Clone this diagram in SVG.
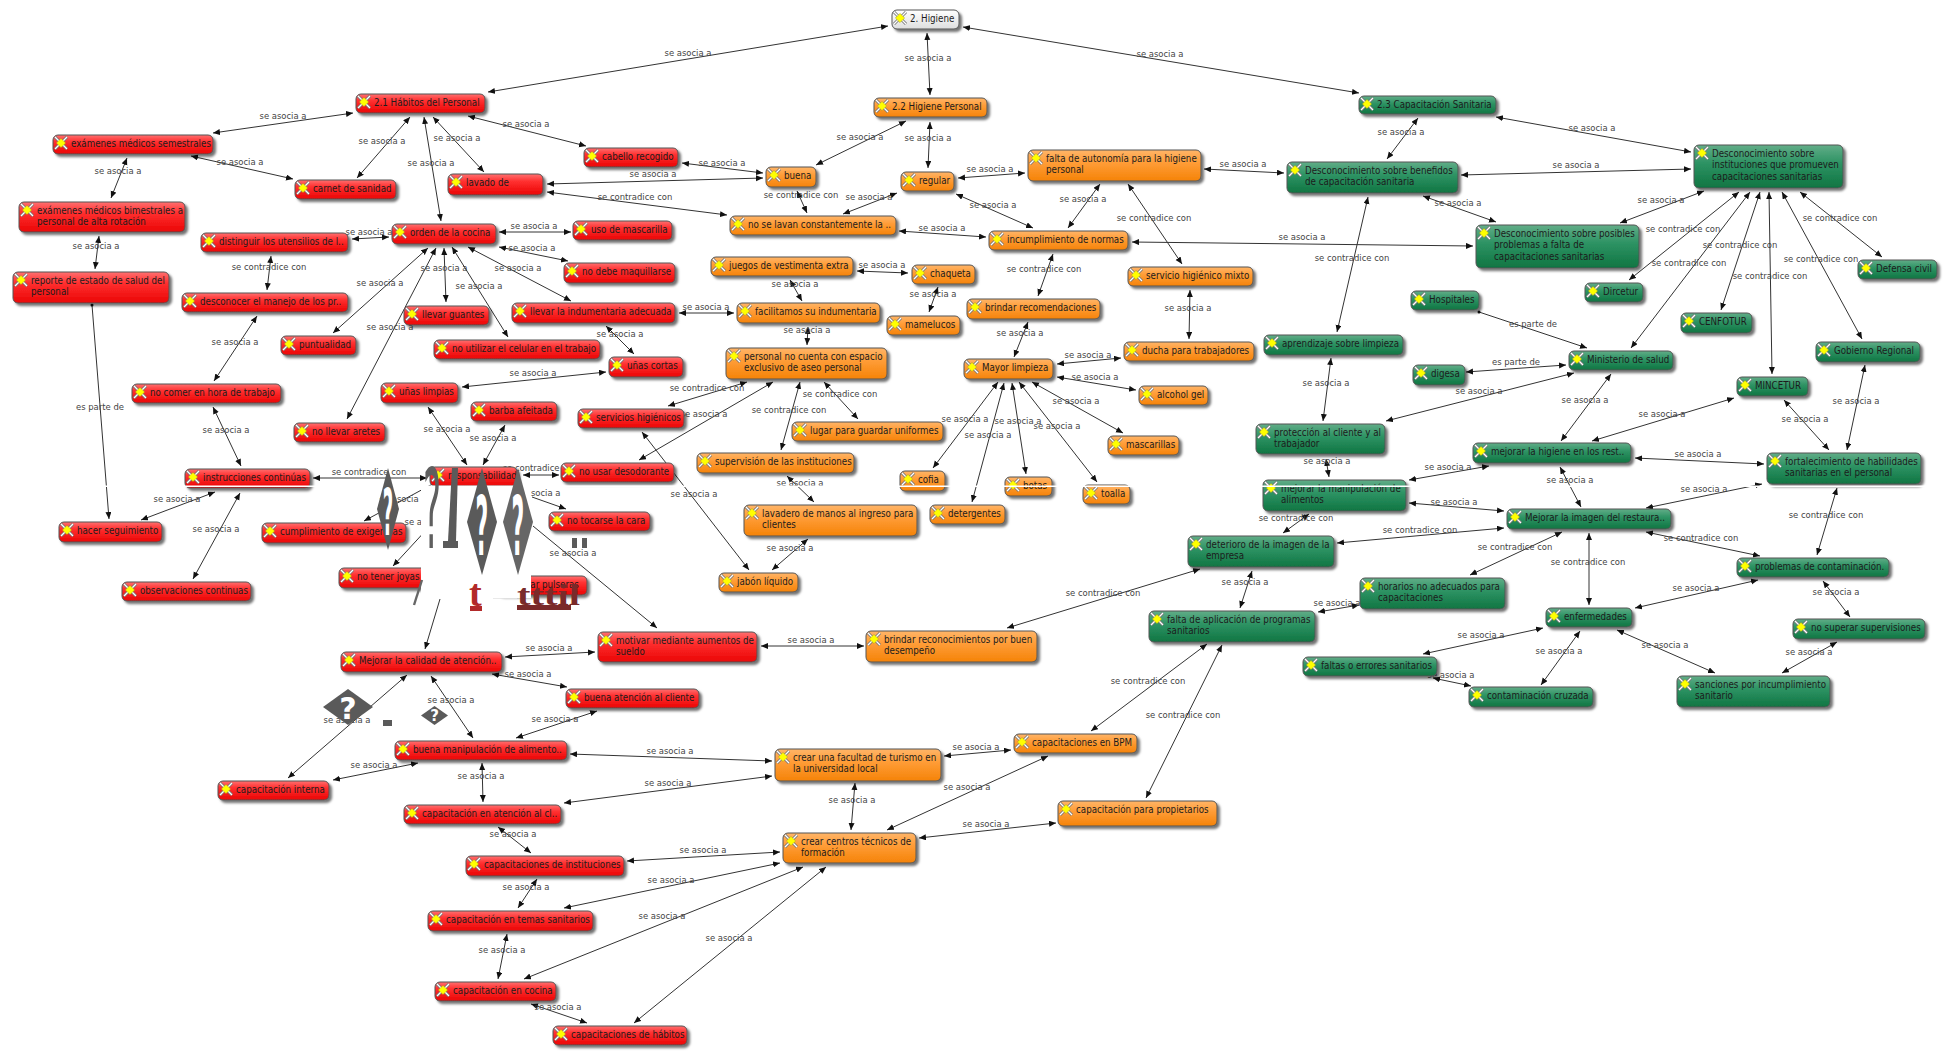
<svg xmlns="http://www.w3.org/2000/svg" width="1954" height="1058" viewBox="0 0 1954 1058">
<style>
text{font-family:"DejaVu Sans Condensed","DejaVu Sans","Liberation Sans",sans-serif;font-stretch:condensed}
.c path{fill:none;stroke:#333;stroke-width:1;marker-start:url(#a);marker-end:url(#a)}
.c path.e{marker-start:none}
.c path.d{marker-start:url(#dot)}
.c text{font-size:9.4px;fill:#444;text-anchor:middle;dominant-baseline:central}
.n rect{stroke:#555;stroke-width:1;filter:url(#s)}
.n text{font-size:9.7px;fill:#1c1c1c}
.r rect{fill:url(#gr)}.o rect{fill:url(#go)}.g rect{fill:url(#gg)}.w rect{fill:url(#gw)}
.x{fill:#5a5a5a}
#glitches text{font-family:"DejaVu Sans",sans-serif;font-stretch:normal}
#glitches text.t{font-family:"Liberation Serif",serif;font-weight:bold}
.q{fill:#fff;font-weight:bold;font-size:20px;text-anchor:middle}
</style>
<defs>
<marker id="a" markerUnits="userSpaceOnUse" markerWidth="8" markerHeight="7" refX="7" refY="3" orient="auto-start-reverse"><path d="M0,0L7,3L0,6z" fill="#111"/></marker>
<marker id="dot" markerUnits="userSpaceOnUse" markerWidth="4" markerHeight="4" refX="2" refY="2"><circle cx="2" cy="2" r="1.5" fill="#111"/></marker>
<linearGradient id="gr" x1="0" y1="0" x2="0" y2="1"><stop offset="0" stop-color="#ff7070"/><stop offset=".35" stop-color="#ff3030"/><stop offset="1" stop-color="#ea0404"/></linearGradient>
<linearGradient id="go" x1="0" y1="0" x2="0" y2="1"><stop offset="0" stop-color="#ffb568"/><stop offset=".4" stop-color="#ff9d38"/><stop offset="1" stop-color="#f58308"/></linearGradient>
<linearGradient id="gg" x1="0" y1="0" x2="0" y2="1"><stop offset="0" stop-color="#62ad88"/><stop offset=".4" stop-color="#2f9465"/><stop offset="1" stop-color="#0f7542"/></linearGradient>
<linearGradient id="gw" x1="0" y1="0" x2="0" y2="1"><stop offset="0" stop-color="#fff"/><stop offset="1" stop-color="#dedede"/></linearGradient>
<filter id="s" x="-10%" y="-20%" width="125%" height="160%"><feDropShadow dx="2.5" dy="2.5" stdDeviation="1.2" flood-color="#000" flood-opacity=".55"/></filter>
<g id="i"><path d="M-6,-6L6,6M6,-6L-6,6" stroke="#777" stroke-width="3"/><path d="M-6,-6L6,6M6,-6L-6,6" stroke="#fff" stroke-width="1.3"/><path d="M0,-4.6L4.6,0L0,4.6L-4.6,0z" fill="#ff0" stroke="#a8a020" stroke-width=".5"/></g>
</defs>
<rect width="1954" height="1058" fill="#fff"/>
<g id="connectors" class="c">
<g><path d="M888 26L488 92"/><text x="688" y="52">se asocia a</text></g>
<g><path d="M927 33L930 95"/><text x="928" y="57">se asocia a</text></g>
<g><path d="M963 27L1359 93"/><text x="1160" y="53">se asocia a</text></g>
<g><path d="M906 121L816 165"/><text x="860" y="136">se asocia a</text></g>
<g><path d="M930 122L928 168"/><text x="928" y="137">se asocia a</text></g>
<g><path d="M468 116L586 146"/><text x="526" y="123">se asocia a</text></g>
<g><path d="M682 163L763 173"/><text x="722" y="162">se asocia a</text></g>
<g><path d="M547 184L763 178"/><text x="653" y="173">se asocia a</text></g>
<g><path d="M547 192L727 215"/><text x="635" y="196">se contradice con</text></g>
<g><path d="M797 191L807 213"/><text x="801" y="194">se contradice con</text></g>
<g><path d="M843 214L897 193"/><text x="869" y="196">se asocia a</text></g>
<g><path d="M899 231L986 237"/><text x="942" y="227">se asocia a</text></g>
<g><path d="M958 178L1025 173"/><text x="990" y="168">se asocia a</text></g>
<g><path d="M956 194L1033 228"/><text x="993" y="204">se asocia a</text></g>
<g><path d="M1100 184L1068 228"/><text x="1083" y="198">se asocia a</text></g>
<g><path d="M1128 184L1182 264"/><text x="1154" y="217">se contradice con</text></g>
<g><path d="M1204 169L1284 173"/><text x="1243" y="163">se asocia a</text></g>
<g><path d="M1418 118L1387 159"/><text x="1401" y="131">se asocia a</text></g>
<g><path d="M1496 117L1691 152"/><text x="1592" y="127">se asocia a</text></g>
<g><path d="M1461 175L1691 169"/><text x="1576" y="164">se asocia a</text></g>
<g><path d="M1423 196L1496 222"/><text x="1458" y="202">se asocia a</text></g>
<g><path d="M1132 242L1473 246"/><text x="1302" y="236">se asocia a</text></g>
<g><path d="M1368 197L1337 332"/><text x="1352" y="257">se contradice con</text></g>
<g><path d="M1620 223L1704 191"/><text x="1661" y="199">se asocia a</text></g>
<g><path d="M1739 192L1629 280"/><text x="1683" y="228">se contradice con</text></g>
<g><path d="M1750 192L1631 348"/><text x="1689" y="262">se contradice con</text></g>
<g><path d="M1760 192L1721 310"/><text x="1740" y="244">se contradice con</text></g>
<g><path d="M1769 192L1772 374"/><text x="1770" y="275">se contradice con</text></g>
<g><path d="M1782 192L1862 339"/><text x="1821" y="258">se contradice con</text></g>
<g><path d="M1800 192L1882 257"/><text x="1840" y="217">se contradice con</text></g>
<g><path class="d" d="M1479 312L1587 348"/><text x="1533" y="323">es parte de</text></g>
<g><path d="M1466 372L1566 365"/><text x="1516" y="361">es parte de</text></g>
<g><path d="M1386 421L1574 373"/><text x="1479" y="390">se asocia a</text></g>
<g><path d="M1611 374L1561 441"/><text x="1585" y="399">se asocia a</text></g>
<g><path d="M1592 441L1734 398"/><text x="1662" y="413">se asocia a</text></g>
<g><path d="M1784 400L1829 450"/><text x="1805" y="418">se asocia a</text></g>
<g><path d="M1865 365L1847 450"/><text x="1856" y="400">se asocia a</text></g>
<g><path d="M1635 458L1764 464"/><text x="1698" y="453">se asocia a</text></g>
<g><path d="M1646 508L1762 484"/><text x="1704" y="488">se asocia a</text></g>
<g><path d="M1560 467L1581 507"/><text x="1570" y="479">se asocia a</text></g>
<g><path d="M1409 480L1489 466"/><text x="1448" y="466">se asocia a</text></g>
<g><path d="M1409 503L1504 511"/><text x="1454" y="501">se asocia a</text></g>
<g><path d="M1337 543L1504 528"/><text x="1420" y="529">se contradice con</text></g>
<g><path d="M1309 514L1283 533"/><text x="1296" y="517">se contradice con</text></g>
<g><path d="M1326 459L1329 477"/><text x="1327" y="460">se asocia a</text></g>
<g><path d="M1331 358L1323 421"/><text x="1326" y="382">se asocia a</text></g>
<g><path d="M1252 571L1240 608"/><text x="1245" y="581">se asocia a</text></g>
<g><path d="M1200 569L1007 628"/><text x="1103" y="592">se contradice con</text></g>
<g><path d="M1318 612L1359 605"/><text x="1337" y="602">se asocia a</text></g>
<g><path d="M1470 575L1562 532"/><text x="1515" y="546">se contradice con</text></g>
<g><path d="M1589 533L1589 605"/><text x="1588" y="561">se contradice con</text></g>
<g><path d="M1646 532L1760 556"/><text x="1701" y="537">se contradice con</text></g>
<g><path d="M1837 488L1817 555"/><text x="1826" y="514">se contradice con</text></g>
<g><path d="M1635 608L1758 580"/><text x="1696" y="587">se asocia a</text></g>
<g><path d="M1823 581L1850 617"/><text x="1836" y="591">se asocia a</text></g>
<g><path d="M1837 642L1782 673"/><text x="1809" y="651">se asocia a</text></g>
<g><path d="M1617 630L1715 673"/><text x="1665" y="644">se asocia a</text></g>
<g><path d="M1580 631L1541 685"/><text x="1559" y="650">se asocia a</text></g>
<g><path d="M1423 654L1543 628"/><text x="1481" y="634">se asocia a</text></g>
<g><path d="M1433 678L1471 686"/><text x="1451" y="674">se asocia a</text></g>
<g><path d="M1207 644L1091 731"/><text x="1148" y="680">se contradice con</text></g>
<g><path d="M1222 645L1146 798"/><text x="1183" y="714">se contradice con</text></g>
<g><path d="M944 756L1011 750"/><text x="976" y="746">se asocia a</text></g>
<g><path d="M855 783L851 830"/><text x="852" y="799">se asocia a</text></g>
<g><path d="M887 830L1048 756"/><text x="967" y="786">se asocia a</text></g>
<g><path d="M919 838L1056 823"/><text x="986" y="823">se asocia a</text></g>
<g><path d="M761 646L864 646"/><text x="811" y="639">se asocia a</text></g>
<g><path d="M505 657L595 652"/><text x="549" y="647">se asocia a</text></g>
<g><path d="M492 674L567 687"/><text x="528" y="673">se asocia a</text></g>
<g><path d="M597 711L516 738"/><text x="555" y="718">se asocia a</text></g>
<g><path d="M431 676L473 738"/><text x="451" y="699">se asocia a</text></g>
<g><path d="M407 675L288 778"/><text x="347" y="719">se asocia a</text></g>
<g><path d="M418 763L333 780"/><text x="374" y="764">se asocia a</text></g>
<g><path d="M482 763L483 802"/><text x="481" y="775">se asocia a</text></g>
<g><path d="M570 754L772 761"/><text x="670" y="750">se asocia a</text></g>
<g><path d="M564 803L772 776"/><text x="668" y="782">se asocia a</text></g>
<g><path d="M498 827L531 853"/><text x="513" y="833">se asocia a</text></g>
<g><path d="M627 861L780 852"/><text x="703" y="849">se asocia a</text></g>
<g><path d="M537 879L518 908"/><text x="526" y="886">se asocia a</text></g>
<g><path d="M564 908L780 863"/><text x="671" y="879">se asocia a</text></g>
<g><path d="M507 934L498 979"/><text x="502" y="949">se asocia a</text></g>
<g><path d="M524 979L803 867"/><text x="662" y="915">se asocia a</text></g>
<g><path d="M634 1023L826 867"/><text x="729" y="937">se asocia a</text></g>
<g><path d="M531 1004L587 1023"/><text x="558" y="1006">se asocia a</text></g>
<g><path d="M353 113L213 133"/><text x="283" y="115">se asocia a</text></g>
<g><path d="M191 156L293 179"/><text x="240" y="161">se asocia a</text></g>
<g><path d="M127 158L111 198"/><text x="118" y="170">se asocia a</text></g>
<g><path d="M99 236L95 269"/><text x="96" y="245">se asocia a</text></g>
<g><path d="M410 117L357 178"/><text x="382" y="140">se asocia a</text></g>
<g><path d="M433 117L484 172"/><text x="457" y="137">se asocia a</text></g>
<g><path d="M424 117L441 221"/><text x="431" y="162">se asocia a</text></g>
<g><path d="M389 237L352 239"/><text x="369" y="231">se asocia a</text></g>
<g><path d="M271 256L267 290"/><text x="269" y="266">se contradice con</text></g>
<g><path d="M257 316L214 381"/><text x="235" y="341">se asocia a</text></g>
<g><path d="M213 407L241 466"/><text x="226" y="429">se asocia a</text></g>
<g><path class="d" d="M92 305L109 519"/><text x="100" y="406">es parte de</text></g>
<g><path d="M215 492L141 520"/><text x="177" y="498">se asocia a</text></g>
<g><path d="M240 493L193 579"/><text x="216" y="528">se asocia a</text></g>
<g><path d="M313 478L427 478"/><text x="369" y="471">se contradice con</text></g>
<g><path d="M428 248L333 333"/><text x="380" y="282">se asocia a</text></g>
<g><path d="M436 248L347 419"/><text x="390" y="326">se asocia a</text></g>
<g><path d="M444 248L446 302"/><text x="444" y="267">se asocia a</text></g>
<g><path d="M452 247L508 337"/><text x="479" y="285">se asocia a</text></g>
<g><path d="M468 247L571 301"/><text x="518" y="267">se asocia a</text></g>
<g><path d="M499 232L571 232"/><text x="534" y="225">se asocia a</text></g>
<g><path d="M499 247L568 261"/><text x="532" y="247">se asocia a</text></g>
<g><path d="M679 313L734 313"/><text x="706" y="306">se asocia a</text></g>
<g><path d="M606 326L634 354"/><text x="620" y="333">se asocia a</text></g>
<g><path d="M857 271L908 273"/><text x="882" y="264">se asocia a</text></g>
<g><path d="M790 280L802 301"/><text x="795" y="283">se asocia a</text></g>
<g><path d="M938 287L929 312"/><text x="933" y="293">se asocia a</text></g>
<g><path d="M808 327L807 345"/><text x="807" y="329">se asocia a</text></g>
<g><path d="M606 372L462 387"/><text x="533" y="372">se asocia a</text></g>
<g><path d="M428 407L467 465"/><text x="447" y="428">se asocia a</text></g>
<g><path d="M505 425L483 465"/><text x="493" y="437">se asocia a</text></g>
<g><path d="M523 475L559 475"/><text x="540" y="467">se contradice con</text></g>
<g><path class="e" d="M532 497L566 509"/><text x="537" y="492">se asocia a</text></g>
<g><path class="e" d="M440 480L364 521"/><text x="403" y="498">se asocia a</text></g>
<g><path class="e" d="M440 515L393 566"/><text x="428" y="521">se asocia a</text></g>
<g><path class="e" d="M533 526L657 628"/><text x="573" y="552">se asocia a</text></g>
<g><path class="e" d="M440 599L425 649"/></g>
<g><path d="M773 382L639 460"/><text x="704" y="413">se asocia a</text></g>
<g><path d="M747 382L668 406"/><text x="707" y="387">se contradice con</text></g>
<g><path d="M800 382L781 450"/><text x="789" y="409">se contradice con</text></g>
<g><path d="M824 382L858 419"/><text x="840" y="393">se contradice con</text></g>
<g><path d="M787 476L814 502"/><text x="800" y="482">se asocia a</text></g>
<g><path d="M808 539L772 570"/><text x="790" y="547">se asocia a</text></g>
<g><path d="M749 570L642 432"/><text x="694" y="493">se asocia a</text></g>
<g><path d="M1053 254L1038 296"/><text x="1044" y="268">se contradice con</text></g>
<g><path d="M1028 322L1014 357"/><text x="1020" y="332">se asocia a</text></g>
<g><path d="M1057 364L1121 358"/><text x="1088" y="354">se asocia a</text></g>
<g><path d="M1057 377L1136 390"/><text x="1095" y="376">se asocia a</text></g>
<g><path d="M1032 382L1123 433"/><text x="1076" y="400">se asocia a</text></g>
<g><path d="M1019 382L1097 482"/><text x="1057" y="425">se asocia a</text></g>
<g><path d="M1012 383L1026 474"/><text x="1018" y="420">se asocia a</text></g>
<g><path d="M1004 383L972 502"/><text x="988" y="434">se asocia a</text></g>
<g><path d="M998 382L933 468"/><text x="965" y="418">se asocia a</text></g>
<g><path d="M1190 290L1189 339"/><text x="1188" y="307">se asocia a</text></g>
</g>
<g id="nodes">
<g id="n1" class="n w"><rect x="892" y="10" width="67" height="19" rx="5"/><use href="#i" x="900" y="18"/><text x="910" y="21.5">2. Higiene</text></g>
<g id="n2" class="n r"><rect x="356" y="94" width="129" height="19" rx="5"/><use href="#i" x="364" y="102"/><text x="374" y="105.5">2.1 Hábitos del Personal</text></g>
<g id="n3" class="n o"><rect x="874" y="98" width="113" height="19" rx="5"/><use href="#i" x="882" y="106"/><text x="892" y="109.5">2.2 Higiene Personal</text></g>
<g id="n4" class="n g"><rect x="1359" y="96" width="137" height="18" rx="5"/><use href="#i" x="1367" y="104"/><text x="1377" y="107.5">2.3 Capacitación Sanitaria</text></g>
<g id="n5" class="n r"><rect x="53" y="135" width="160" height="19" rx="5"/><use href="#i" x="61" y="143"/><text x="71" y="146.5">exámenes médicos semestrales</text></g>
<g id="n6" class="n r"><rect x="295" y="180" width="101" height="19" rx="5"/><use href="#i" x="303" y="188"/><text x="313" y="191.5">carnet de sanidad</text></g>
<g id="n7" class="n r"><rect x="19" y="202" width="166" height="30" rx="5"/><use href="#i" x="27" y="210"/><text x="37" y="213.5">exámenes médicos bimestrales a<tspan x="37" dy="11.4">personal de alta rotación</tspan></text></g>
<g id="n8" class="n r"><rect x="13" y="272" width="156" height="31" rx="5"/><use href="#i" x="21" y="280"/><text x="31" y="283.5">reporte de estado de salud del<tspan x="31" dy="11.4">personal</tspan></text></g>
<g id="n9" class="n r"><rect x="201" y="233" width="147" height="19" rx="5"/><use href="#i" x="209" y="241"/><text x="219" y="244.5">distinguir los utensilios de l..</text></g>
<g id="n10" class="n r"><rect x="392" y="224" width="104" height="20" rx="5"/><use href="#i" x="400" y="232"/><text x="410" y="235.5">orden de la cocina</text></g>
<g id="n11" class="n r"><rect x="182" y="293" width="166" height="19" rx="5"/><use href="#i" x="190" y="301"/><text x="200" y="304.5">desconocer el manejo de los pr..</text></g>
<g id="n12" class="n r"><rect x="281" y="336" width="75" height="19" rx="5"/><use href="#i" x="289" y="344"/><text x="299" y="347.5">puntualidad</text></g>
<g id="n13" class="n r"><rect x="404" y="306" width="85" height="19" rx="5"/><use href="#i" x="412" y="314"/><text x="422" y="317.5">llevar guantes</text></g>
<g id="n14" class="n r"><rect x="132" y="384" width="149" height="19" rx="5"/><use href="#i" x="140" y="392"/><text x="150" y="395.5">no comer en hora de trabajo</text></g>
<g id="n15" class="n r"><rect x="381" y="383" width="77" height="20" rx="5"/><use href="#i" x="389" y="391"/><text x="399" y="394.5">uñas limpias</text></g>
<g id="n16" class="n r"><rect x="434" y="340" width="166" height="19" rx="5"/><use href="#i" x="442" y="348"/><text x="452" y="351.5">no utilizar el celular en el trabajo</text></g>
<g id="n17" class="n r"><rect x="448" y="174" width="95" height="21" rx="5"/><use href="#i" x="456" y="182"/><text x="466" y="185.5">lavado de</text></g>
<g id="n18" class="n r"><rect x="471" y="402" width="86" height="19" rx="5"/><use href="#i" x="479" y="410"/><text x="489" y="413.5">barba afeitada</text></g>
<g id="n19" class="n r"><rect x="584" y="148" width="94" height="19" rx="5"/><use href="#i" x="592" y="156"/><text x="602" y="159.5">cabello recogido</text></g>
<g id="n20" class="n o"><rect x="766" y="167" width="50" height="20" rx="5"/><use href="#i" x="774" y="175"/><text x="784" y="178.5">buena</text></g>
<g id="n21" class="n o"><rect x="901" y="172" width="53" height="19" rx="5"/><use href="#i" x="909" y="180"/><text x="919" y="183.5">regular</text></g>
<g id="n22" class="n o"><rect x="730" y="216" width="166" height="19" rx="5"/><use href="#i" x="738" y="224"/><text x="748" y="227.5">no se lavan constantemente la ..</text></g>
<g id="n23" class="n r"><rect x="573" y="221" width="99" height="19" rx="5"/><use href="#i" x="581" y="229"/><text x="591" y="232.5">uso de mascarilla</text></g>
<g id="n24" class="n r"><rect x="564" y="263" width="111" height="20" rx="5"/><use href="#i" x="572" y="271"/><text x="582" y="274.5">no debe maquillarse</text></g>
<g id="n25" class="n o"><rect x="711" y="257" width="142" height="19" rx="5"/><use href="#i" x="719" y="265"/><text x="729" y="268.5">juegos de vestimenta extra</text></g>
<g id="n26" class="n o"><rect x="912" y="265" width="63" height="19" rx="5"/><use href="#i" x="920" y="273"/><text x="930" y="276.5">chaqueta</text></g>
<g id="n27" class="n r"><rect x="512" y="303" width="163" height="20" rx="5"/><use href="#i" x="520" y="311"/><text x="530" y="314.5">llevar la indumentaria adecuada</text></g>
<g id="n28" class="n o"><rect x="737" y="303" width="143" height="20" rx="5"/><use href="#i" x="745" y="311"/><text x="755" y="314.5">facilitamos su indumentaria</text></g>
<g id="n29" class="n o"><rect x="887" y="316" width="73" height="19" rx="5"/><use href="#i" x="895" y="324"/><text x="905" y="327.5">mamelucos</text></g>
<g id="n30" class="n o"><rect x="967" y="299" width="133" height="20" rx="5"/><use href="#i" x="975" y="307"/><text x="985" y="310.5">brindar recomendaciones</text></g>
<g id="n31" class="n o"><rect x="1028" y="150" width="173" height="31" rx="5"/><use href="#i" x="1036" y="158"/><text x="1046" y="161.5">falta de autonomía para la higiene<tspan x="1046" dy="11.4">personal</tspan></text></g>
<g id="n32" class="n g"><rect x="1287" y="162" width="171" height="31" rx="5"/><use href="#i" x="1295" y="170"/><text x="1305" y="173.5">Desconocimiento sobre benefidos<tspan x="1305" dy="11.4">de capacitación sanitaria</tspan></text></g>
<g id="n33" class="n o"><rect x="989" y="231" width="139" height="19" rx="5"/><use href="#i" x="997" y="239"/><text x="1007" y="242.5">incumplimiento de normas</text></g>
<g id="n34" class="n o"><rect x="1128" y="267" width="125" height="19" rx="5"/><use href="#i" x="1136" y="275"/><text x="1146" y="278.5">servicio higiénico mixto</text></g>
<g id="n35" class="n o"><rect x="1124" y="342" width="130" height="19" rx="5"/><use href="#i" x="1132" y="350"/><text x="1142" y="353.5">ducha para trabajadores</text></g>
<g id="n36" class="n o"><rect x="964" y="359" width="89" height="20" rx="5"/><use href="#i" x="972" y="367"/><text x="982" y="370.5">Mayor limpieza</text></g>
<g id="n37" class="n o"><rect x="1139" y="386" width="69" height="19" rx="5"/><use href="#i" x="1147" y="394"/><text x="1157" y="397.5">alcohol gel</text></g>
<g id="n38" class="n g"><rect x="1264" y="335" width="139" height="20" rx="5"/><use href="#i" x="1272" y="343"/><text x="1282" y="346.5">aprendizaje sobre limpieza</text></g>
<g id="n39" class="n g"><rect x="1411" y="291" width="68" height="19" rx="5"/><use href="#i" x="1419" y="299"/><text x="1429" y="302.5">Hospitales</text></g>
<g id="n40" class="n g"><rect x="1413" y="365" width="52" height="20" rx="5"/><use href="#i" x="1421" y="373"/><text x="1431" y="376.5">digesa</text></g>
<g id="n41" class="n g"><rect x="1694" y="145" width="149" height="43" rx="5"/><use href="#i" x="1702" y="153"/><text x="1712" y="156.5">Desconocimiento sobre<tspan x="1712" dy="11.7">instituciones que promueven</tspan><tspan x="1712" dy="11.7">capacitaciones sanitarias</tspan></text></g>
<g id="n42" class="n g"><rect x="1476" y="225" width="163" height="43" rx="5"/><use href="#i" x="1484" y="233"/><text x="1494" y="236.5">Desconocimiento sobre posibles<tspan x="1494" dy="11.7">problemas a falta de</tspan><tspan x="1494" dy="11.7">capacitaciones sanitarias</tspan></text></g>
<g id="n43" class="n g"><rect x="1585" y="283" width="58" height="19" rx="5"/><use href="#i" x="1593" y="291"/><text x="1603" y="294.5">Dircetur</text></g>
<g id="n44" class="n g"><rect x="1858" y="260" width="79" height="19" rx="5"/><use href="#i" x="1866" y="268"/><text x="1876" y="271.5">Defensa civil</text></g>
<g id="n45" class="n g"><rect x="1681" y="313" width="71" height="20" rx="5"/><use href="#i" x="1689" y="321"/><text x="1699" y="324.5">CENFOTUR</text></g>
<g id="n46" class="n g"><rect x="1569" y="351" width="104" height="19" rx="5"/><use href="#i" x="1577" y="359"/><text x="1587" y="362.5">Ministerio de salud</text></g>
<g id="n47" class="n g"><rect x="1816" y="342" width="104" height="20" rx="5"/><use href="#i" x="1824" y="350"/><text x="1834" y="353.5">Gobierno Regional</text></g>
<g id="n48" class="n g"><rect x="1737" y="377" width="71" height="19" rx="5"/><use href="#i" x="1745" y="385"/><text x="1755" y="388.5">MINCETUR</text></g>
<g id="n49" class="n r"><rect x="185" y="469" width="125" height="19" rx="5"/><use href="#i" x="193" y="477"/><text x="203" y="480.5">instrucciones continúas</text></g>
<g id="n50" class="n r"><rect x="59" y="522" width="103" height="20" rx="5"/><use href="#i" x="67" y="530"/><text x="77" y="533.5">hacer seguimiento</text></g>
<g id="n51" class="n r"><rect x="294" y="423" width="91" height="19" rx="5"/><use href="#i" x="302" y="431"/><text x="312" y="434.5">no llevar aretes</text></g>
<g id="n52" class="n r"><rect x="262" y="523" width="144" height="20" rx="5"/><use href="#i" x="270" y="531"/><text x="280" y="534.5">cumplimiento de exigencias</text></g>
<g id="n53" class="n r"><rect x="339" y="568" width="100" height="20" rx="5"/><use href="#i" x="347" y="576"/><text x="357" y="579.5">no tener joyas</text></g>
<g id="n54" class="n r"><rect x="122" y="582" width="129" height="19" rx="5"/><use href="#i" x="130" y="590"/><text x="140" y="593.5">observaciones continuas</text></g>
<g id="n55" class="n r"><rect x="341" y="652" width="161" height="20" rx="5"/><use href="#i" x="349" y="660"/><text x="359" y="663.5">Mejorar la calidad de atención..</text></g>
<g id="n56" class="n r"><rect x="430" y="467" width="87" height="19" rx="5"/><use href="#i" x="438" y="475"/><text x="448" y="478.5">responsabilidad</text></g>
<g id="n57" class="n r"><rect x="561" y="463" width="113" height="19" rx="5"/><use href="#i" x="569" y="471"/><text x="579" y="474.5">no usar desodorante</text></g>
<g id="n58" class="n r"><rect x="549" y="512" width="101" height="19" rx="5"/><use href="#i" x="557" y="520"/><text x="567" y="523.5">no tocarse la cara</text></g>
<g id="n59" class="n r"><rect x="497" y="576" width="90" height="19" rx="5"/><use href="#i" x="505" y="584"/><text x="515" y="587.5">llevar pulseras</text></g>
<g id="n60" class="n r"><rect x="598" y="632" width="159" height="30" rx="5"/><use href="#i" x="606" y="640"/><text x="616" y="643.5">motivar mediante aumentos de<tspan x="616" dy="11.4">sueldo</tspan></text></g>
<g id="n61" class="n r"><rect x="578" y="409" width="106" height="19" rx="5"/><use href="#i" x="586" y="417"/><text x="596" y="420.5">servicios higiénicos</text></g>
<g id="n62" class="n r"><rect x="609" y="357" width="74" height="20" rx="5"/><use href="#i" x="617" y="365"/><text x="627" y="368.5">uñas cortas</text></g>
<g id="n63" class="n o"><rect x="726" y="348" width="161" height="31" rx="5"/><use href="#i" x="734" y="356"/><text x="744" y="359.5">personal no cuenta con espacio<tspan x="744" dy="11.4">exclusivo de aseo personal</tspan></text></g>
<g id="n64" class="n o"><rect x="792" y="422" width="151" height="19" rx="5"/><use href="#i" x="800" y="430"/><text x="810" y="433.5">lugar para guardar uniformes</text></g>
<g id="n65" class="n o"><rect x="697" y="453" width="157" height="20" rx="5"/><use href="#i" x="705" y="461"/><text x="715" y="464.5">supervisión de las instituciones</text></g>
<g id="n66" class="n o"><rect x="744" y="505" width="173" height="31" rx="5"/><use href="#i" x="752" y="513"/><text x="762" y="516.5">lavadero de manos al ingreso para<tspan x="762" dy="11.4">clientes</tspan></text></g>
<g id="n67" class="n o"><rect x="719" y="573" width="79" height="19" rx="5"/><use href="#i" x="727" y="581"/><text x="737" y="584.5">jabón líquido</text></g>
<g id="n68" class="n o"><rect x="900" y="471" width="45" height="20" rx="5"/><use href="#i" x="908" y="479"/><text x="918" y="482.5">cofia</text></g>
<g id="n69" class="n o"><rect x="930" y="505" width="75" height="19" rx="5"/><use href="#i" x="938" y="513"/><text x="948" y="516.5">detergentes</text></g>
<g id="n70" class="n o"><rect x="866" y="631" width="171" height="31" rx="5"/><use href="#i" x="874" y="639"/><text x="884" y="642.5">brindar reconocimientos por buen<tspan x="884" dy="11.4">desempeño</tspan></text></g>
<g id="n71" class="n o"><rect x="1005" y="477" width="47" height="19" rx="5"/><use href="#i" x="1013" y="485"/><text x="1023" y="488.5">botas</text></g>
<g id="n72" class="n o"><rect x="1083" y="485" width="47" height="19" rx="5"/><use href="#i" x="1091" y="493"/><text x="1101" y="496.5">toalla</text></g>
<g id="n73" class="n o"><rect x="1108" y="436" width="71" height="19" rx="5"/><use href="#i" x="1116" y="444"/><text x="1126" y="447.5">mascarillas</text></g>
<g id="n74" class="n g"><rect x="1256" y="424" width="129" height="30" rx="5"/><use href="#i" x="1264" y="432"/><text x="1274" y="435.5">protección al cliente y al<tspan x="1274" dy="11.4">trabajador</tspan></text></g>
<g id="n75" class="n g"><rect x="1263" y="480" width="143" height="31" rx="5"/><use href="#i" x="1271" y="488"/><text x="1281" y="491.5">mejorar la manipulación de<tspan x="1281" dy="11.4">alimentos</tspan></text></g>
<g id="n76" class="n g"><rect x="1188" y="536" width="146" height="31" rx="5"/><use href="#i" x="1196" y="544"/><text x="1206" y="547.5">deterioro de la imagen de la<tspan x="1206" dy="11.4">empresa</tspan></text></g>
<g id="n77" class="n g"><rect x="1360" y="578" width="145" height="31" rx="5"/><use href="#i" x="1368" y="586"/><text x="1378" y="589.5">horarios no adecuados para<tspan x="1378" dy="11.4">capacitaciones</tspan></text></g>
<g id="n78" class="n g"><rect x="1149" y="611" width="166" height="31" rx="5"/><use href="#i" x="1157" y="619"/><text x="1167" y="622.5">falta de aplicación de programas<tspan x="1167" dy="11.4">sanitarios</tspan></text></g>
<g id="n79" class="n g"><rect x="1303" y="657" width="134" height="19" rx="5"/><use href="#i" x="1311" y="665"/><text x="1321" y="668.5">faltas o errores sanitarios</text></g>
<g id="n80" class="n g"><rect x="1473" y="443" width="158" height="20" rx="5"/><use href="#i" x="1481" y="451"/><text x="1491" y="454.5">mejorar la higiene en los rest..</text></g>
<g id="n81" class="n g"><rect x="1767" y="453" width="154" height="31" rx="5"/><use href="#i" x="1775" y="461"/><text x="1785" y="464.5">fortalecimiento de habilidades<tspan x="1785" dy="11.4">sanitarias en el personal</tspan></text></g>
<g id="n82" class="n g"><rect x="1507" y="509" width="164" height="20" rx="5"/><use href="#i" x="1515" y="517"/><text x="1525" y="520.5">Mejorar la imagen del restaura..</text></g>
<g id="n83" class="n g"><rect x="1737" y="558" width="152" height="19" rx="5"/><use href="#i" x="1745" y="566"/><text x="1755" y="569.5">problemas de contaminación.</text></g>
<g id="n84" class="n g"><rect x="1546" y="608" width="86" height="19" rx="5"/><use href="#i" x="1554" y="616"/><text x="1564" y="619.5">enfermedades</text></g>
<g id="n85" class="n g"><rect x="1793" y="619" width="132" height="20" rx="5"/><use href="#i" x="1801" y="627"/><text x="1811" y="630.5">no superar supervisiones</text></g>
<g id="n86" class="n g"><rect x="1677" y="676" width="153" height="31" rx="5"/><use href="#i" x="1685" y="684"/><text x="1695" y="687.5">sanciones por incumplimiento<tspan x="1695" dy="11.4">sanitario</tspan></text></g>
<g id="n87" class="n g"><rect x="1469" y="687" width="124" height="20" rx="5"/><use href="#i" x="1477" y="695"/><text x="1487" y="698.5">contaminación cruzada</text></g>
<g id="n88" class="n r"><rect x="566" y="689" width="133" height="19" rx="5"/><use href="#i" x="574" y="697"/><text x="584" y="700.5">buena atención al cliente</text></g>
<g id="n89" class="n r"><rect x="395" y="741" width="172" height="19" rx="5"/><use href="#i" x="403" y="749"/><text x="413" y="752.5">buena manipulación de alimento..</text></g>
<g id="n90" class="n r"><rect x="218" y="781" width="111" height="19" rx="5"/><use href="#i" x="226" y="789"/><text x="236" y="792.5">capacitación interna</text></g>
<g id="n91" class="n r"><rect x="404" y="805" width="157" height="19" rx="5"/><use href="#i" x="412" y="813"/><text x="422" y="816.5">capacitación en atención al cl..</text></g>
<g id="n92" class="n r"><rect x="466" y="856" width="158" height="20" rx="5"/><use href="#i" x="474" y="864"/><text x="484" y="867.5">capacitaciones de instituciones</text></g>
<g id="n93" class="n r"><rect x="428" y="911" width="165" height="20" rx="5"/><use href="#i" x="436" y="919"/><text x="446" y="922.5">capacitación en temas sanitarios</text></g>
<g id="n94" class="n r"><rect x="435" y="982" width="121" height="19" rx="5"/><use href="#i" x="443" y="990"/><text x="453" y="993.5">capacitación en cocina</text></g>
<g id="n95" class="n r"><rect x="553" y="1026" width="134" height="19" rx="5"/><use href="#i" x="561" y="1034"/><text x="571" y="1037.5">capacitaciones de hábitos</text></g>
<g id="n96" class="n o"><rect x="775" y="749" width="166" height="32" rx="5"/><use href="#i" x="783" y="757"/><text x="793" y="760.5">crear una facultad de turismo en<tspan x="793" dy="11.4">la universidad local</tspan></text></g>
<g id="n97" class="n o"><rect x="1014" y="734" width="123" height="19" rx="5"/><use href="#i" x="1022" y="742"/><text x="1032" y="745.5">capacitaciones en BPM</text></g>
<g id="n98" class="n o"><rect x="1058" y="801" width="159" height="25" rx="5"/><use href="#i" x="1066" y="809"/><text x="1076" y="812.5">capacitación para propietarios</text></g>
<g id="n99" class="n o"><rect x="783" y="833" width="133" height="30" rx="5"/><use href="#i" x="791" y="841"/><text x="801" y="844.5">crear centros técnicos de<tspan x="801" dy="11.4">formación</tspan></text></g>
</g>
<g id="glitches">
<rect x="0" y="485.5" width="1954" height="1.5" fill="#fff"/>
<rect x="421" y="486" width="110" height="112" fill="#fff"/>
<rect x="493" y="598" width="24" height=".8" fill="#e4e4e4"/>
<polygon class="x" points="388,468 399,509 388,550 377,509"/>
<text class="q" transform="translate(388,535) scale(.9,3.2)">?</text>
<text transform="translate(432,548) scale(1.7,5.5)" font-size="20" text-anchor="middle" fill="#5f5f5f">?</text>
<polygon class="x" points="452,468 458,468 456,541 448,541"/>
<rect class="x" x="443" y="541" width="15" height="7"/>
<polygon class="x" points="482,468 497,522 482,575 467,522"/>
<text class="q" transform="translate(482,555) scale(1.1,4.1)">?</text>
<polygon points="518,468 533,522 518,575 503,522" fill="#666"/>
<text class="q" transform="translate(518,555) scale(1.1,4.1)">?</text>
<rect class="x" x="572" y="538" width="5" height="10"/>
<rect class="x" x="582" y="538" width="5" height="10"/>
<path d="M422 580L414 605" stroke="#666" stroke-width="2.4"/>
<text class="t" x="469" y="606" font-size="38" fill="#b22a2a">t</text>
<rect x="470" y="606" width="12" height="5" fill="#b22a2a"/>
<text class="t" x="517" y="605" font-size="30" fill="#7a2a2a" textLength="63" lengthAdjust="spacingAndGlyphs">tttil</text>
<rect x="517" y="605" width="54" height="5" fill="#7a2a2a"/>
<polygon class="x" points="348,689 373,707 348,725 323,707"/>
<text class="q" x="348" y="719" style="font-size:30px">?</text>
<polygon class="x" points="434.5,706 448,715.5 434.5,725 421,715.5"/>
<text class="q" x="434.5" y="721" style="font-size:15px">?</text>
<rect class="x" x="383" y="720" width="9" height="6"/>
</g>
</svg>
